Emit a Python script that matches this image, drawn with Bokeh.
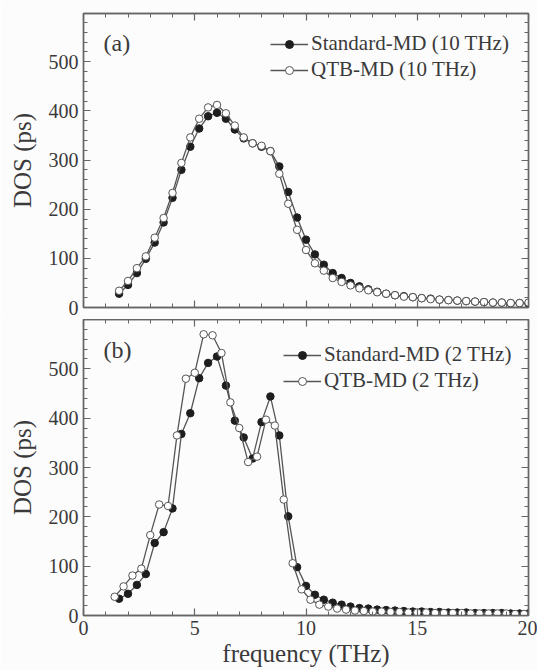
from bokeh.plotting import figure
from bokeh.models import LinearAxis, FixedTicker, Range1d, Legend, LegendItem, Label
from bokeh.layouts import column
from bokeh.embed import file_html
from bokeh.resources import INLINE

# ---------------- data ----------------
freq = [1.6, 2.0, 2.4, 2.8, 3.2, 3.6, 4.0, 4.4, 4.8, 5.2, 5.6, 6.0, 6.4, 6.8, 7.2, 7.6,
        8.0, 8.4, 8.8, 9.2, 9.6, 10.0, 10.4, 10.8, 11.2, 11.6, 12.0, 12.4, 12.8, 13.2,
        13.6, 14.0, 14.4, 14.8, 15.2, 15.6, 16.0, 16.4, 16.8, 17.2, 17.6, 18.0, 18.4,
        18.8, 19.2, 19.6, 20.0]

# panel (a): 10 THz
std_10 = [28, 46, 70, 99, 132, 173, 223, 280, 327, 364, 389, 396, 384, 362, 344, 334,
          327, 318, 287, 235, 183, 138, 108, 87, 70, 60, 50, 43, 37, 32, 28, 25, 23, 21,
          19, 18, 16, 15, 14, 13, 12, 11, 10, 10, 9, 9, 8]
qtb_10 = [34, 54, 80, 104, 142, 182, 233, 294, 346, 384, 407, 412, 395, 370, 346, 334,
          329, 318, 272, 211, 158, 117, 90, 75, 60, 52, 45, 39, 35, 31, 28, 25, 22, 21,
          19, 17, 16, 15, 14, 13, 12, 11, 10, 10, 9, 9, 10]

# panel (b): 2 THz
std_2 = [34, 44, 62, 84, 147, 169, 217, 368, 410, 481, 512, 525, 466, 395, 361, 318,
         392, 444, 365, 201, 98, 60, 42, 32, 26, 22, 18, 15, 14, 12, 11, 10, 9, 8, 8, 7,
         7, 6, 6, 6, 5, 5, 5, 5, 4, 4, 4]
freq_qtb_2 = [1.4, 1.8, 2.2, 2.6, 3.0, 3.4, 3.8, 4.2, 4.6, 5.0, 5.4, 5.8, 6.2, 6.6, 7.0,
              7.4, 7.8, 8.2, 8.6, 9.0, 9.4, 9.8, 10.2, 10.6, 11.0, 11.4, 11.8, 12.2, 12.6,
              13.0, 13.4, 13.8, 14.2, 14.6, 15.0, 15.4, 15.8, 16.2, 16.6, 17.0, 17.4, 17.8,
              18.2, 18.6, 19.0, 19.4, 19.8]
qtb_2 = [38, 59, 81, 95, 163, 225, 222, 365, 480, 492, 570, 568, 532, 432, 380, 311,
         322, 397, 385, 235, 106, 53, 32, 22, 18, 14, 12, 10, 9, 8, 8, 7, 7, 6, 6, 6, 5,
         5, 5, 5, 4, 4, 4, 4, 4, 3, 3]

x_major = [0, 5, 10, 15, 20]
x_minor = list(range(0, 21))
y_major = [0, 100, 200, 300, 400, 500]
y_minor = list(range(0, 601, 20))

# ---------------- style ----------------
FONT = "Liberation Serif"
TXT = "#3a3a3a"
AX = "#666666"
LINE = "#555555"
BG = "#fcfcfc"


def style_axis(ax, ticks, minor, labels=True):
    ax.ticker = FixedTicker(ticks=ticks, minor_ticks=minor)
    ax.major_tick_in = 7
    ax.major_tick_out = 0
    ax.minor_tick_in = 4
    ax.minor_tick_out = 0
    ax.axis_line_color = AX
    ax.axis_line_width = 1.4
    ax.major_tick_line_color = AX
    ax.major_tick_line_width = 1.2
    ax.minor_tick_line_color = AX
    ax.minor_tick_line_width = 1.0
    ax.major_label_text_font = FONT
    ax.major_label_text_font_size = "20px"
    ax.major_label_text_color = TXT
    ax.major_label_standoff = 5
    if not labels:
        ax.major_label_overrides = {t: "" for t in ticks}
        ax.major_label_standoff = 0


def make_panel(xs, ys, xq, yq, lab_s, lab_q, tag, ymax, height, btop, bbottom,
               xlabels, leg_loc):
    p = figure(width=537, height=height, x_range=Range1d(0, 20), y_range=Range1d(0, ymax),
               output_backend="svg", toolbar_location=None,
               min_border_left=83, min_border_right=9,
               min_border_top=btop, min_border_bottom=bbottom,
               background_fill_color=BG, border_fill_color=BG)
    p.xgrid.visible = False
    p.ygrid.visible = False
    p.outline_line_color = AX
    p.outline_line_width = 1.4

    style_axis(p.xaxis[0], x_major, x_minor, labels=xlabels)
    style_axis(p.yaxis[0], y_major, y_minor, labels=True)
    p.yaxis[0].axis_label = "DOS (ps)"
    p.yaxis[0].axis_label_text_font = FONT
    p.yaxis[0].axis_label_text_font_style = "normal"
    p.yaxis[0].axis_label_text_font_size = "25px"
    p.yaxis[0].axis_label_text_color = TXT
    p.yaxis[0].axis_label_standoff = 10
    if xlabels:
        p.xaxis[0].axis_label = "frequency (THz)"
        p.xaxis[0].axis_label_text_font = FONT
        p.xaxis[0].axis_label_text_font_style = "normal"
        p.xaxis[0].axis_label_text_font_size = "25px"
        p.xaxis[0].axis_label_text_color = TXT
        p.xaxis[0].axis_label_standoff = 2

    top = LinearAxis()
    style_axis(top, x_major, x_minor, labels=False)
    p.add_layout(top, "above")
    right = LinearAxis()
    style_axis(right, y_major, y_minor, labels=False)
    p.add_layout(right, "right")

    l1 = p.line(xs, ys, line_color=LINE, line_width=1.3)
    s1 = p.scatter(xs, ys, size=7.5, marker="circle", fill_color="#1e1e1e",
                   line_color="#1e1e1e", line_width=1)
    l2 = p.line(xq, yq, line_color=LINE, line_width=1.3)
    s2 = p.scatter(xq, yq, size=7.5, marker="circle", fill_color="#ffffff",
                   line_color="#555555", line_width=1)

    legend = Legend(items=[LegendItem(label=lab_s, renderers=[l1, s1]),
                           LegendItem(label=lab_q, renderers=[l2, s2])],
                    location=leg_loc, padding=0, margin=0, spacing=1,
                    glyph_width=38, glyph_height=20, label_height=20,
                    label_standoff=3,
                    label_text_font=FONT, label_text_font_size="21px",
                    label_text_color=TXT,
                    background_fill_alpha=0, border_line_alpha=0)
    p.add_layout(legend)

    p.add_layout(Label(x=0.9, y=539, text=tag, text_font=FONT, text_font_size="24px",
                       text_color=TXT, text_baseline="middle"))
    return p


pa = make_panel(freq, std_10, freq, qtb_10, "Standard-MD (10 THz)", "QTB-MD (10 THz)",
                "(a)", 598, 319, 13, 12, False, (187, 225))
pb = make_panel(freq, std_2, freq_qtb_2, qtb_2, "Standard-MD (2 THz)", "QTB-MD (2 THz)",
                "(b)", 600, 351, 0, 55, True, (200, 222))

layout = column(pa, pb, spacing=0)
open("out.html", "w").write(file_html(layout, INLINE))
